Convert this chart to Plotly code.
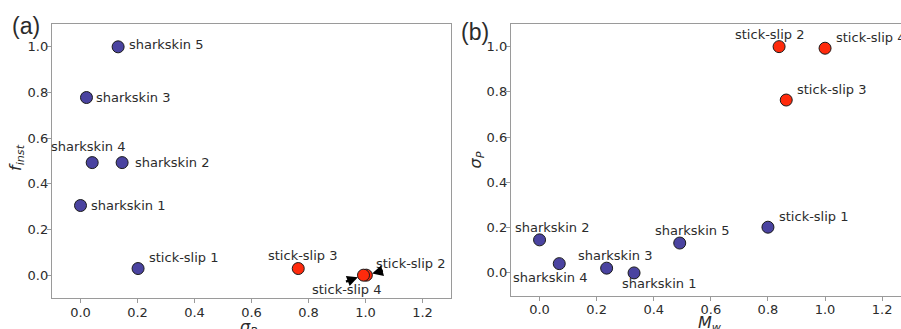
import plotly.graph_objects as go

# ---------------- data ----------------
names = ["sharkskin 1", "sharkskin 2", "sharkskin 3", "sharkskin 4", "sharkskin 5",
         "stick-slip 1", "stick-slip 2", "stick-slip 3", "stick-slip 4"]
sigma_p = [0.0, 0.146, 0.021, 0.041, 0.132, 0.202, 1.003, 0.764, 0.993]
f_inst = [0.305, 0.493, 0.778, 0.493, 1.0, 0.029, 0.0, 0.029, 0.0]
m_w = [0.331, 0.0, 0.235, 0.069, 0.491, 0.80, 0.839, 0.864, 1.0]
sigma_p_b = [0.0, 0.146, 0.021, 0.041, 0.132, 0.202, 1.0, 0.764, 0.993]
regime = ["blue", "blue", "blue", "blue", "blue", "blue", "red", "red", "red"]

x_ticks = [0.0, 0.2, 0.4, 0.6, 0.8, 1.0, 1.2]
y_ticks = [0.0, 0.2, 0.4, 0.6, 0.8, 1.0]

# ---------------- styles ----------------
COL = {"blue": "#4a43a0", "red": "#ff2a0c"}
FONT = "DejaVu Sans"
TXT = "#2b2b2b"
SPINE = "#9a9a9a"

# label placement per point (xanchor, xshift, yshift) for panel a and b
lab_a = {
    "sharkskin 1": ("left", 8, 0), "sharkskin 2": ("left", 11, 0),
    "sharkskin 3": ("left", 8, 0), "sharkskin 4": ("center", -4, 16),
    "sharkskin 5": ("left", 9, 2), "stick-slip 1": ("left", 9, 11),
    "stick-slip 3": ("center", 5, 13),
}
lab_a_arrow = {  # text position offset (pixel) and arrow tail offset
    "stick-slip 2": (("left", 8, 12), (18, -5)),
    "stick-slip 4": (("center", -17, -14), (-19, 7)),
}
lab_b = {
    "sharkskin 1": ("center", 25, -11), "sharkskin 2": ("center", 12, 12),
    "sharkskin 3": ("center", 8, 13), "sharkskin 4": ("center", -9, -14),
    "sharkskin 5": ("center", 12, 13), "stick-slip 1": ("left", 9, 11),
    "stick-slip 2": ("center", -9, 12), "stick-slip 3": ("left", 9, 11),
    "stick-slip 4": ("left", 9, 11),
}

fig = go.Figure()

colors = [COL[r] for r in regime]
fig.add_trace(go.Scatter(
    x=sigma_p, y=f_inst, mode="markers", xaxis="x", yaxis="y",
    marker=dict(size=12, color=colors, line=dict(color="#1a1a1a", width=1)),
    showlegend=False, hoverinfo="skip"))
fig.add_trace(go.Scatter(
    x=m_w, y=sigma_p_b, mode="markers", xaxis="x2", yaxis="y2",
    marker=dict(size=12, color=colors, line=dict(color="#1a1a1a", width=1)),
    showlegend=False, hoverinfo="skip"))

ann = []
lf = dict(family=FONT, size=13, color=TXT)
for i, n in enumerate(names):
    if n in lab_a:
        xa, xs, ys = lab_a[n]
        ann.append(dict(x=sigma_p[i], y=f_inst[i], xref="x", yref="y", text=n,
                        showarrow=False, xanchor=xa, yanchor="middle",
                        xshift=xs, yshift=ys, font=lf))
    if n in lab_a_arrow:
        (xa, xs, ys), (ax, ay) = lab_a_arrow[n]
        ann.append(dict(x=sigma_p[i], y=f_inst[i], xref="x", yref="y", text=n,
                        showarrow=False, xanchor=xa, yanchor="middle",
                        xshift=xs, yshift=ys, font=lf))
        ann.append(dict(x=sigma_p[i], y=f_inst[i], xref="x", yref="y", text="",
                        showarrow=True, ax=ax, ay=ay, arrowhead=2, arrowsize=0.9,
                        arrowwidth=2.4, arrowcolor="black", standoff=6))
    xa, xs, ys = lab_b[n]
    ann.append(dict(x=m_w[i], y=sigma_p_b[i], xref="x2", yref="y2", text=n,
                    showarrow=False, xanchor=xa, yanchor="middle",
                    xshift=xs, yshift=ys, font=lf))

# panel letters
ann.append(dict(x=-26 / 849, y=1.0, xref="paper", yref="paper", text="(a)",
                showarrow=False, xanchor="center", yanchor="middle", yshift=-2,
                font=dict(family="Liberation Sans", size=23, color=TXT)))
ann.append(dict(x=(475 - 52) / 849, y=1.0, xref="paper", yref="paper", text="(b)",
                showarrow=False, xanchor="center", yanchor="middle", yshift=-8,
                font=dict(family="Liberation Sans", size=23, color=TXT)))

# axis titles
tf = dict(family=FONT, size=16, color=TXT)
ann.append(dict(x=(248 - 52) / 849, y=-0.106, xref="paper", yref="paper",
                text="<i>σ<sub>P</sub></i>", showarrow=False,
                xanchor="center", yanchor="middle", font=tf))
ann.append(dict(x=(710 - 52) / 849, y=-0.094, xref="paper", yref="paper",
                text="<i>M<sub>w</sub></i>", showarrow=False,
                xanchor="center", yanchor="middle", font=tf))
ann.append(dict(x=(17 - 52) / 849, y=0.511, xref="paper", yref="paper",
                text="<i>f<sub>inst</sub></i>", showarrow=False, textangle=-90,
                xanchor="center", yanchor="middle", font=tf))
ann.append(dict(x=(476.5 - 52) / 849, y=0.504, xref="paper", yref="paper",
                text="<i>σ<sub>P</sub></i>", showarrow=False, textangle=-90,
                xanchor="center", yanchor="middle", font=tf))

axis_common = dict(showline=True, linecolor=SPINE, linewidth=1.3, mirror=True,
                   ticks="outside", ticklen=4, tickcolor=SPINE, tickwidth=1,
                   showgrid=False, zeroline=False, automargin=False,
                   tickfont=dict(family=FONT, size=13, color=TXT))

fig.update_layout(
    width=901, height=329, margin=dict(l=52, r=0, t=24, b=31),
    plot_bgcolor="white", paper_bgcolor="white",
    xaxis=dict(axis_common, domain=[0, 399 / 849], range=[-0.1, 1.3],
               tickvals=x_ticks, ticktext=[f"{v:.1f}" for v in x_ticks],
               ticklabelstandoff=-2, anchor="y"),
    yaxis=dict(axis_common, domain=[0, 1], range=[-0.1, 1.1],
               tickvals=y_ticks, ticktext=[f"{v:.1f}" for v in y_ticks],
               ticklabelstandoff=-4, anchor="x"),
    xaxis2=dict(axis_common, domain=[459 / 849, 1], range=[-0.1, 1.266],
                tickvals=x_ticks, ticktext=[f"{v:.1f}" for v in x_ticks],
                ticklabelstandoff=-2, anchor="y2"),
    yaxis2=dict(axis_common, domain=[0.009, 1], range=[-0.1, 1.1], mirror=False,
                tickvals=y_ticks, ticktext=[f"{v:.1f}" for v in y_ticks],
                ticklabelstandoff=-4, anchor="x2"),
    annotations=ann,
)

fig.write_html("out.html")
